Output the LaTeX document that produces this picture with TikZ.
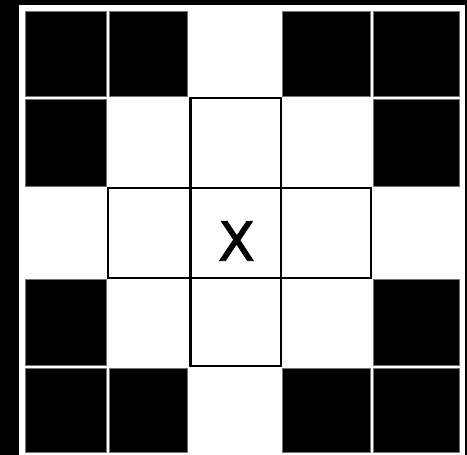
\documentclass[tikz,border=0pt]{standalone}
\usepackage{fontspec}
\setmainfont{DejaVu Sans}
\newfontfamily\markfont[FakeBold=1.6]{DejaVu Sans}
\begin{document}
\begin{tikzpicture}[x=1pt,y=-1pt,
  blk/.style={fill=black,draw=black!55,line width=0.5pt},
  crossline/.style={draw=black,line width=2.1pt},
  marklabel/.style={inner sep=0pt,anchor=base,font=\markfont\fontsize{54}{60}\selectfont}]
\useasboundingbox (0,0) rectangle (467,455);
\fill[black] (0,0) rectangle (467,455);
\fill[white] (18.5,4.7) rectangle (465,456);
% black squares: rows
\def\rA{11.7}\def\rAA{96.7}
\def\rB{99}\def\rBB{186}
\def\rD{279}\def\rDD{365.7}
\def\rE{368.3}\def\rEE{452.5}
\def\cA{25}\def\cAA{106.7}
\def\cB{109.3}\def\cBB{187.5}
\def\cD{282.7}\def\cDD{370.3}
\def\cE{373}\def\cEE{459}
% row 1
\draw[blk] (\cA,\rA) rectangle (\cAA,\rAA);
\draw[blk] (\cB,\rA) rectangle (\cBB,\rAA);
\draw[blk] (\cD,\rA) rectangle (\cDD,\rAA);
\draw[blk] (\cE,\rA) rectangle (\cEE,\rAA);
% row 2
\draw[blk] (\cA,\rB) rectangle (\cAA,\rBB);
\draw[blk] (\cE,\rB) rectangle (\cEE,\rBB);
% row 4
\draw[blk] (\cA,\rD) rectangle (\cAA,\rDD);
\draw[blk] (\cE,\rD) rectangle (\cEE,\rDD);
% row 5
\draw[blk] (\cA,\rE) rectangle (\cAA,\rEE);
\draw[blk] (\cB,\rE) rectangle (\cBB,\rEE);
\draw[blk] (\cD,\rE) rectangle (\cDD,\rEE);
\draw[blk] (\cE,\rE) rectangle (\cEE,\rEE);
% cross outline
\draw[crossline] (190.5,97.6) rectangle (281,366.3);
\draw[crossline] (107.6,187.8) rectangle (371.2,277.8);
\node[marklabel] (xmark) at (236.5,260.7) {X};
\end{tikzpicture}
\end{document}
